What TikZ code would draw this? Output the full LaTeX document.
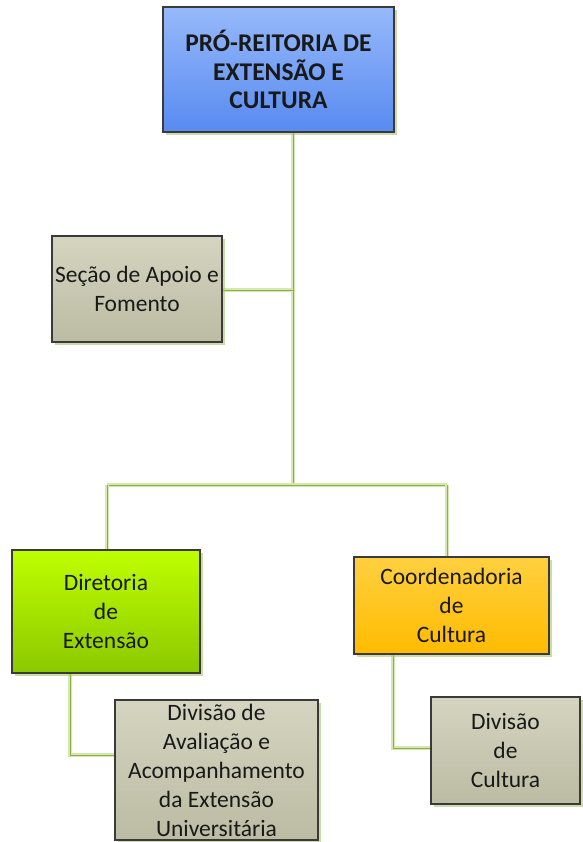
\documentclass[tikz,border=0pt]{standalone}
\usepackage{fontspec}
\setmainfont{Carlito}
\usetikzlibrary{shadows}
\definecolor{linkdark}{HTML}{8AB040}
\definecolor{linkpale}{HTML}{D6E7B4}
\definecolor{boxborder}{HTML}{3A3A3A}
\definecolor{greytop}{HTML}{D4D4C0}
\definecolor{greybot}{HTML}{BCBCA4}
\definecolor{shadowgreen}{HTML}{A9C46E}
\tikzset{
  orgbox/.style={draw=boxborder, line width=1.3pt, inner sep=2pt, align=center,
    text=black!90, font=\fontsize{23.5}{29}\selectfont,
    drop shadow={shadow xshift=3pt, shadow yshift=-3pt, fill=shadowgreen, opacity=0.6}},
  greybox/.style={orgbox, top color=greytop, bottom color=greybot},
  link/.style={draw=linkdark, line width=1pt,
    preaction={draw=linkpale, line width=3.8pt}}
}
\begin{document}
\begin{tikzpicture}[x=1pt,y=-1pt]
\useasboundingbox (0,0) rectangle (582,842);
% connectors first
\coordinate (trunkTop) at (293,132);
\coordinate (j1) at (293,290);
\coordinate (j2) at (293,485);
\coordinate (jl) at (107,485);
\coordinate (jr) at (447,485);
\coordinate (secR) at (222,290);
\draw[link] (trunkTop) -- (j2);
\draw[link] (secR) -- (j1);
\draw[link] (jl) -- (jr);
\draw[link] (jl) -- (107,550);
\draw[link] (jr) -- (447,557);
\draw[link] (70,673) |- (115,755);
\draw[link] (393,654) |- (431,748);

\node[orgbox, minimum width=231pt, minimum height=125pt, top color={rgb,255:red,150;green,185;blue,250}, bottom color={rgb,255:red,88;green,138;blue,240},
  font=\bfseries\fontsize{25.5}{28.5}\selectfont] (pro) at (278.5,69.5) {PRÓ-REITORIA DE\\EXTENSÃO E\\CULTURA};
\node[greybox, minimum width=170pt, minimum height=106pt] (sec) at (137,289) {Seção de Apoio e\\Fomento};
\node[orgbox, minimum width=188pt, minimum height=123pt, top color={rgb,255:red,190;green,255;blue,0}, bottom color={rgb,255:red,140;green,200;blue,0}] (dir) at (106,611.5) {Diretoria\\de\\Extensão};
\node[orgbox, minimum width=195pt, minimum height=97pt, top color={rgb,255:red,255;green,208;blue,64}, bottom color={rgb,255:red,255;green,187;blue,0}] (coord) at (451.5,605.5) {Coordenadoria\\de\\Cultura};
\node[greybox, minimum width=203pt, minimum height=140pt] (divav) at (216.5,770) {Divisão de\\Avaliação e\\Acompanhamento\\da Extensão\\Universitária};
\node[greybox, minimum width=149pt, minimum height=107pt] (divcu) at (505.5,750.5) {Divisão\\de\\Cultura};
\end{tikzpicture}
\end{document}
